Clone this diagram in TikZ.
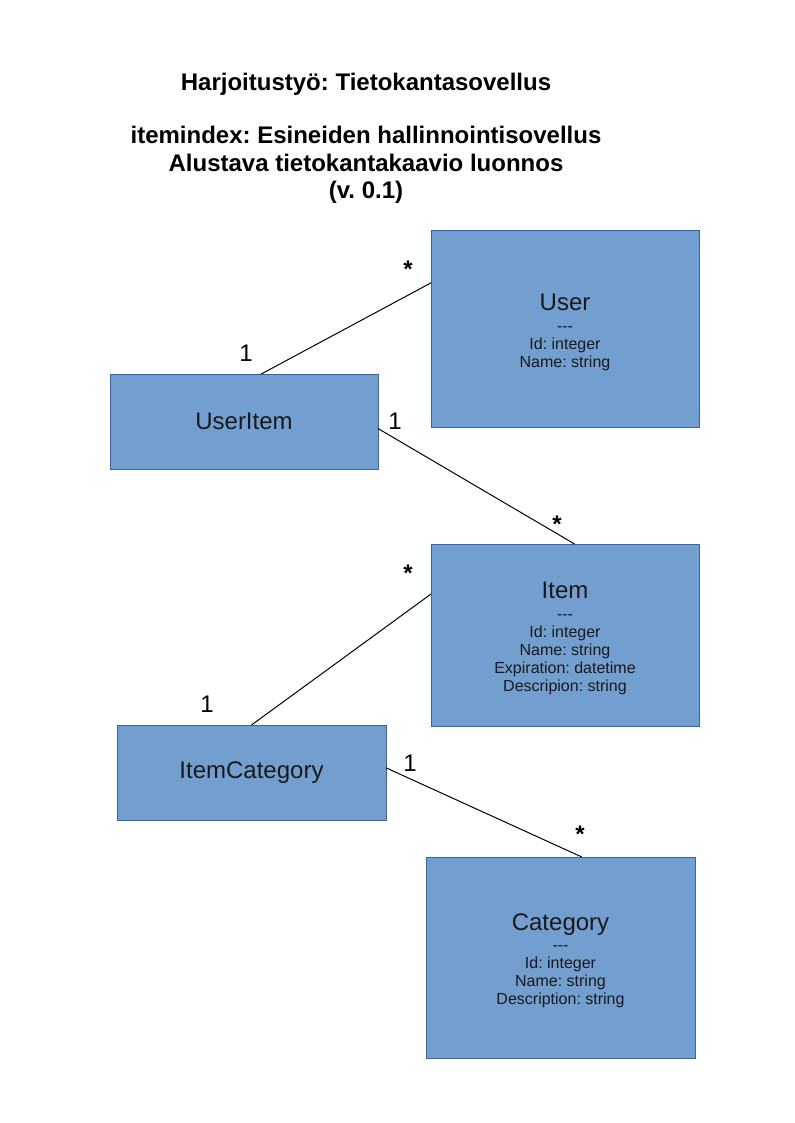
\documentclass[tikz,border=0pt]{standalone}
\usepackage{fontspec}
\setmainfont{Liberation Sans}
\usetikzlibrary{positioning}
\definecolor{boxfill}{HTML}{729FCF}
\definecolor{boxline}{HTML}{3465A4}
\newcommand{\enthead}[1]{{\fontsize{18}{20}\selectfont\rule{0pt}{17.5pt}#1}\\[2pt]}
\newcommand{\sep}{-{}-{}-}
\frenchspacing

\begin{document}
\begin{tikzpicture}[x=0.75pt,y=-0.75pt,
  entity/.style={draw=boxline,fill=boxfill,line width=0.75pt,inner sep=0pt,outer sep=0pt,
    align=center,font=\fontsize{12}{13.5}\selectfont,text=black!90},
  link/.style={draw=black,line width=0.75pt},
  mult/.style={anchor=base,font=\fontsize{18}{20}\selectfont},
  star/.style={anchor=base,font=\bfseries\fontsize{18}{20}\selectfont}]
\useasboundingbox (0,0) rectangle (794,1123);
% otsikko
\node[anchor=base,font=\bfseries\fontsize{18}{20}\selectfont] (title) at (366,91) {Harjoitustyö: Tietokantasovellus};
\node[anchor=base,font=\bfseries\fontsize{18}{20.7}\selectfont,align=center] (subtitle) at (366,199)
  {itemindex: Esineiden hallinnointisovellus\\ Alustava tietokantakaavio luonnos\\ (v. 0.1)};
% taulut
\node[entity,minimum width=201pt,minimum height=147pt] (user) at (565,329)
  {\enthead{User} \sep\\ Id: integer\\ Name: string};
\node[entity,minimum width=201pt,minimum height=71.25pt,font=\fontsize{18}{20}\selectfont] (useritem) at (244,421.5) {UserItem};
\node[entity,minimum width=201pt,minimum height=136.5pt] (item) at (565,635)
  {\enthead{Item} \sep\\ Id: integer\\ Name: string\\ Expiration: datetime\\ Descripion: string};
\node[entity,minimum width=201.75pt,minimum height=71.25pt,font=\fontsize{18}{20}\selectfont] (itemcat) at (251.5,772.5) {ItemCategory};
\node[entity,minimum width=201.75pt,minimum height=150.75pt] (category) at (560.5,957.5)
  {\enthead{Category} \sep\\ Id: integer\\ Name: string\\ Description: string};
% yhteydet
\draw[link] (useritem.70) -- (user.161);
\draw[link] (useritem.-3) -- (item.84);
\draw[link] (itemcat.north) -- (item.163);
\draw[link] (itemcat.2) -- (category.78);
% kertoimet
\node[star] (m1) at (408,277) {*};
\node[mult] (m2) at (246,361) {1};
\node[mult] (m3) at (395,429) {1};
\node[star] (m4) at (557,532) {*};
\node[star] (m5) at (408,581) {*};
\node[mult] (m6) at (207,712) {1};
\node[mult] (m7) at (410,771) {1};
\node[star] (m8) at (580,842) {*};
\end{tikzpicture}
\end{document}
